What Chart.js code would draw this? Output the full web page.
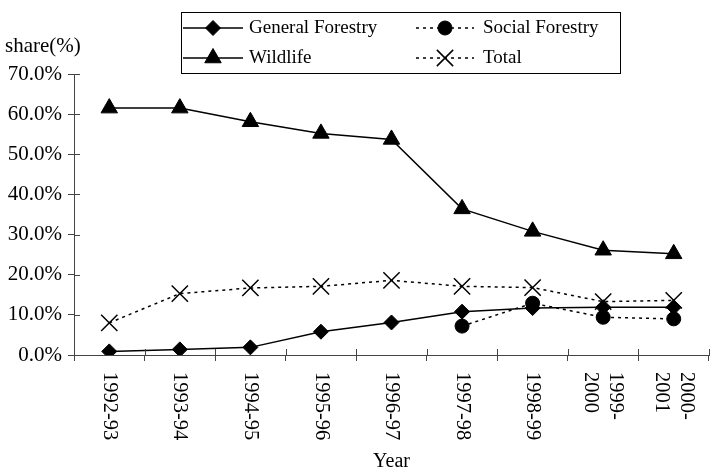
<!DOCTYPE html>
<html>
<head>
<meta charset="utf-8">
<script src="https://cdn.jsdelivr.net/npm/chart.js@4"></script>
<style>
  html, body { margin: 0; padding: 0; background: #ffffff; }
  #wrap { width: 722px; height: 472px; position: relative; }
</style>
</head>
<body>
<div id="wrap"><canvas id="c" width="722" height="472"></canvas></div>
<script>
// ---- data ----
const categories = ["1992-93", "1993-94", "1994-95", "1995-96", "1996-97", "1997-98", "1998-99", ["1999-", "2000"], ["2000-", "2001"]];
const generalForestry = [0.9, 1.4, 1.9, 5.8, 8.1, 10.8, 11.7, 11.9, 11.9];
const socialForestry = [null, null, null, null, null, 7.2, 12.9, 9.4, 9.0];
const wildlife = [61.5, 61.5, 58.1, 55.2, 53.7, 36.4, 30.8, 26.1, 25.2];
const total = [8.0, 15.3, 16.7, 17.1, 18.6, 17.1, 16.8, 13.3, 13.6];
const yTicks = [0, 10, 20, 30, 40, 50, 60, 70];
const yTitle = "share(%)";
const xTitle = "Year";

const FONT = "'Liberation Serif', 'Times New Roman', serif";
const AXIS = '#444';

const datasets = [
  { label: 'General Forestry', data: generalForestry, borderColor: '#000', backgroundColor: '#000',
    borderWidth: 1.5, pointStyle: 'rectRot', pointRadius: 7.5, pointBackgroundColor: '#000', pointBorderColor: '#000', pointBorderWidth: 1, tension: 0 },
  { label: 'Social Forestry', data: socialForestry, borderColor: '#000', backgroundColor: '#000',
    borderWidth: 1.5, borderDash: [3, 4], pointStyle: 'circle', pointRadius: 7, pointBackgroundColor: '#000', pointBorderColor: '#000', pointBorderWidth: 1, tension: 0, spanGaps: false },
  { label: 'Wildlife', data: wildlife, borderColor: '#000', backgroundColor: '#000',
    borderWidth: 1.5, pointStyle: 'triangle', pointRadius: 9.5, pointBackgroundColor: '#000', pointBorderColor: '#000', pointBorderWidth: 1, tension: 0 },
  { label: 'Total', data: total, borderColor: '#000', backgroundColor: '#000',
    borderWidth: 1.5, borderDash: [3, 4], pointStyle: 'crossRot', pointRadius: 11.5, pointBackgroundColor: '#000', pointBorderColor: '#000', pointBorderWidth: 1.5, tension: 0 }
];

const decorPlugin = {
  id: 'decor',
  afterDraw(chart) {
    const ctx = chart.ctx;
    const xs = chart.scales.x, ys = chart.scales.y;
    const area = chart.chartArea;
    ctx.save();
    // inner tick marks (crossing)
    ctx.strokeStyle = AXIS; ctx.lineWidth = 1;
    ctx.beginPath();
    yTicks.forEach(v => {
      const y = Math.round(ys.getPixelForValue(v)) + 0.5;
      ctx.moveTo(area.left, y); ctx.lineTo(area.left + 6, y);
    });
    for (let i = 0; i <= categories.length; i++) {
      const x = Math.round(xs.getPixelForValue(i - 0.5)) + 0.5;
      ctx.moveTo(x, area.bottom); ctx.lineTo(x, area.bottom - 6);
    }
    ctx.stroke();

    // x category labels, rotated 90deg clockwise
    ctx.fillStyle = '#000';
    ctx.font = '20.5px ' + FONT;
    const lh = 25;
    categories.forEach((lab, i) => {
      const lines = Array.isArray(lab) ? lab : [lab];
      const x = xs.getPixelForValue(i);
      ctx.save();
      ctx.translate(x, area.bottom + 17);
      ctx.rotate(Math.PI / 2);
      ctx.textAlign = 'left';
      ctx.textBaseline = 'middle';
      lines.forEach((t, j) => {
        const off = (j - (lines.length - 1) / 2) * lh;
        ctx.fillText(t, 0, off);
      });
      ctx.restore();
    });

    // titles
    ctx.textAlign = 'left'; ctx.textBaseline = 'middle';
    ctx.font = '21px ' + FONT;
    ctx.fillText(yTitle, 5, 46);
    ctx.textAlign = 'center';
    ctx.font = '20px ' + FONT;
    ctx.fillText(xTitle, (area.left + area.right) / 2, 462);

    // legend
    const bx = 181.5, by = 12.5, bw = 439, bh = 61;
    ctx.fillStyle = '#fff';
    ctx.fillRect(bx, by, bw, bh);
    ctx.strokeStyle = '#000'; ctx.lineWidth = 1;
    ctx.strokeRect(bx, by, bw, bh);
    const slots = [
      { ds: 0, x0: 183, x1: 243, tx: 249, y: 28 },
      { ds: 1, x0: 416, x1: 474, tx: 483, y: 28 },
      { ds: 2, x0: 183, x1: 243, tx: 249, y: 58 },
      { ds: 3, x0: 416, x1: 474, tx: 483, y: 58 }
    ];
    slots.forEach(s => {
      const d = chart.data.datasets[s.ds];
      ctx.save();
      ctx.strokeStyle = d.borderColor; ctx.lineWidth = d.borderWidth;
      ctx.setLineDash(d.borderDash || []);
      ctx.beginPath(); ctx.moveTo(s.x0, s.y); ctx.lineTo(s.x1, s.y); ctx.stroke();
      ctx.setLineDash([]);
      ctx.fillStyle = d.pointBackgroundColor; ctx.strokeStyle = d.pointBorderColor;
      ctx.lineWidth = d.pointBorderWidth;
      Chart.helpers.drawPoint(ctx, { pointStyle: d.pointStyle, radius: d.pointRadius, rotation: 0, borderWidth: d.pointBorderWidth }, (s.x0 + s.x1) / 2, s.y);
      ctx.restore();
      ctx.fillStyle = '#000';
      ctx.textAlign = 'left'; ctx.textBaseline = 'middle';
      ctx.font = '19px ' + FONT;
      ctx.fillText(d.label, s.tx, s.y);
    });
    ctx.restore();
  }
};

new Chart(document.getElementById('c'), {
  type: 'line',
  data: { labels: categories, datasets: datasets },
  options: {
    responsive: false,
    animation: false,
    devicePixelRatio: 1,
    layout: { padding: { top: 74, right: 4, left: 0, bottom: 0 } },
    plugins: { legend: { display: false }, tooltip: { enabled: false } },
    scales: {
      x: {
        type: 'category',
        offset: true,
        grid: { display: true, offset: true, drawOnChartArea: false, drawTicks: true, tickLength: 6, color: AXIS, lineWidth: 1 },
        border: { display: true, color: AXIS, width: 1 },
        ticks: { display: false },
        afterFit(scale) { scale.height = 117; }
      },
      y: {
        min: 0, max: 70,
        afterBuildTicks(scale) { scale.ticks = yTicks.map(v => ({ value: v })); },
        grid: { display: true, drawOnChartArea: false, drawTicks: true, tickLength: 6, color: AXIS, lineWidth: 1 },
        border: { display: true, color: AXIS, width: 1 },
        ticks: {
          padding: 6, color: '#000',
          font: { family: FONT, size: 21 },
          callback: v => v.toFixed(1) + '%'
        },
        afterFit(scale) { scale.width = 74; }
      }
    }
  },
  plugins: [decorPlugin]
});
</script>
</body>
</html>
